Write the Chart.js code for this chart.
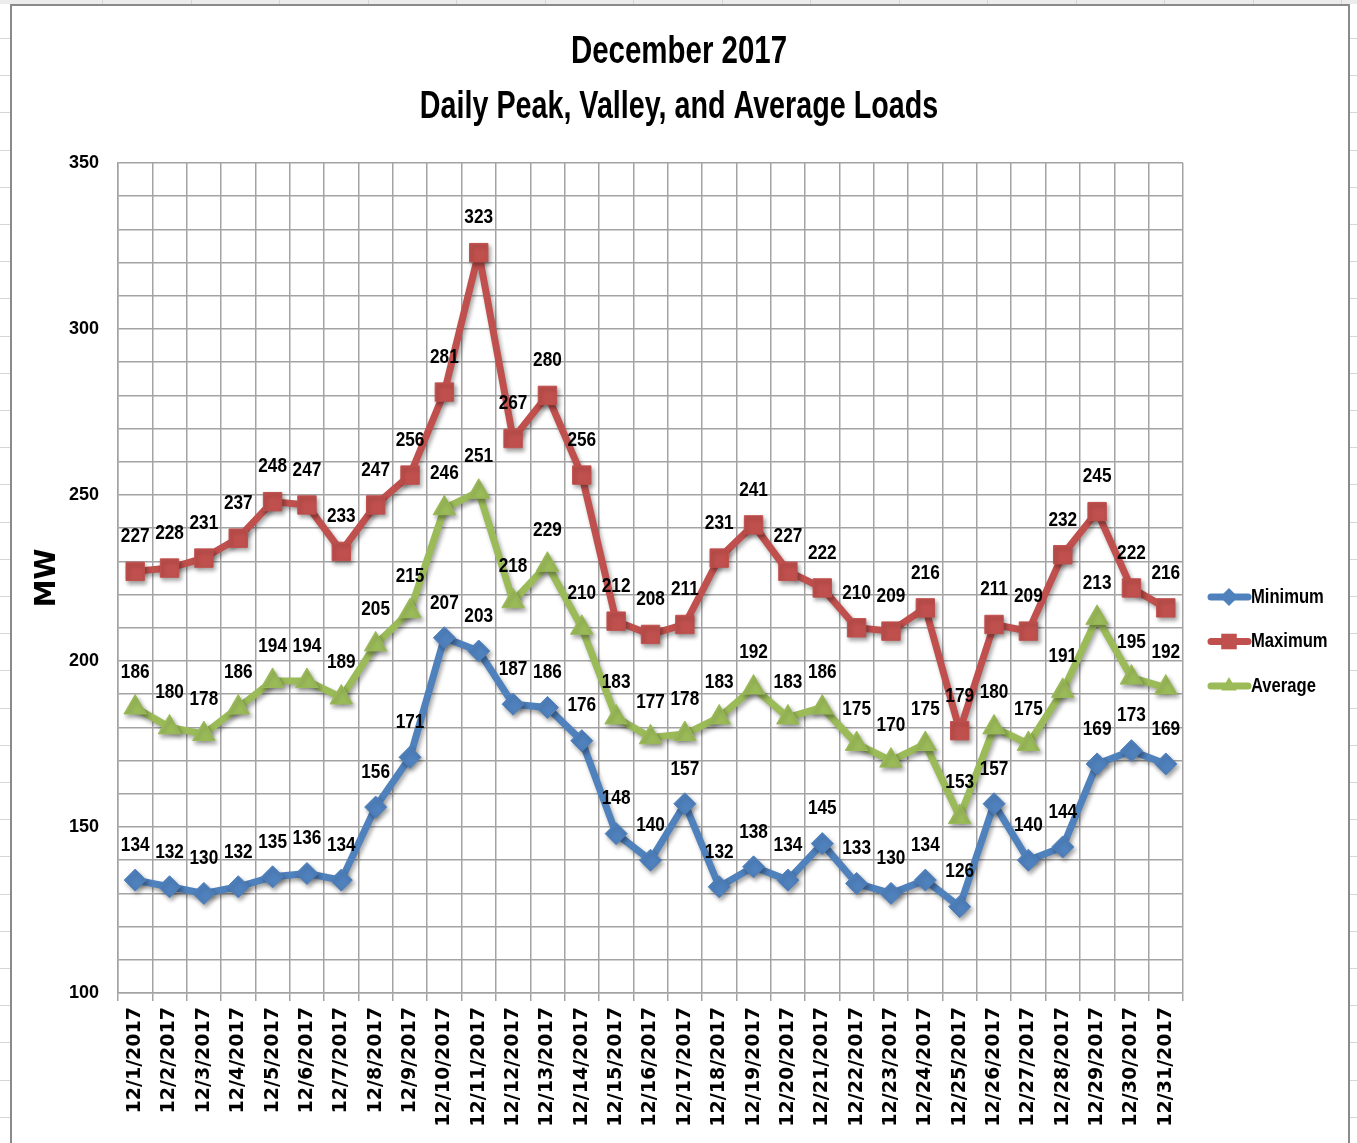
<!DOCTYPE html>
<html><head><meta charset="utf-8">
<script src="https://cdn.jsdelivr.net/npm/chart.js@4/dist/chart.umd.min.js"></script>
<style>html,body{margin:0;padding:0;background:#fff;overflow:hidden}#wrap{position:absolute;left:0;top:0;width:1357px;height:1143px}</style>
</head><body><div id="wrap"><canvas id="c"></canvas></div>
<script>
const categories = ["12/1/2017","12/2/2017","12/3/2017","12/4/2017","12/5/2017","12/6/2017","12/7/2017","12/8/2017","12/9/2017","12/10/2017","12/11/2017","12/12/2017","12/13/2017","12/14/2017","12/15/2017","12/16/2017","12/17/2017","12/18/2017","12/19/2017","12/20/2017","12/21/2017","12/22/2017","12/23/2017","12/24/2017","12/25/2017","12/26/2017","12/27/2017","12/28/2017","12/29/2017","12/30/2017","12/31/2017"];
const minimumLoads = [134,132,130,132,135,136,134,156,171,207,203,187,186,176,148,140,157,132,138,134,145,133,130,134,126,157,140,144,169,173,169];
const maximumLoads = [227,228,231,237,248,247,233,247,256,281,323,267,280,256,212,208,211,231,241,227,222,210,209,216,179,211,209,232,245,222,216];
const averageLoads = [186,180,178,186,194,194,189,205,215,246,251,218,229,210,183,177,178,183,192,183,186,175,170,175,153,180,175,191,213,195,192];
const seriesNames = ["Minimum","Maximum","Average"];
const yMin = 100, yMax = 350, yStep = 10, yLabelStep = 50;
const titleLines = ["December 2017","Daily Peak, Valley, and Average Loads"];
const yAxisTitle = "MW";

const SANS = "'Liberation Sans',Arial,sans-serif";
const GRID = '#a3a3a3';

function scaledText(ctx, text, x, y, sx, align) {
  ctx.save();
  ctx.translate(x, y);
  ctx.scale(sx, 1);
  ctx.textAlign = align;
  ctx.fillText(text, 0, 0);
  ctx.restore();
}

const pagePlugin = {
  id: 'page',
  beforeDraw(chart) {
    const ctx = chart.ctx, W = chart.width, H = chart.height;
    ctx.save();
    ctx.fillStyle = '#fff'; ctx.fillRect(0, 0, W, H);
    ctx.strokeStyle = '#d6d6d6'; ctx.lineWidth = 1;
    for (let y = 38; y < H; y += 37.2) {
      ctx.beginPath(); ctx.moveTo(0, Math.round(y) + 0.5); ctx.lineTo(11, Math.round(y) + 0.5); ctx.stroke();
      ctx.beginPath(); ctx.moveTo(1350, Math.round(y) + 0.5); ctx.lineTo(W, Math.round(y) + 0.5); ctx.stroke();
    }
    ctx.fillStyle = '#ececec'; ctx.fillRect(0, 0, W, 4);
    for (let x = 102; x < W; x += 88.5) {
      ctx.beginPath(); ctx.moveTo(Math.round(x) + 0.5, 0); ctx.lineTo(Math.round(x) + 0.5, 4); ctx.stroke();
    }
    ctx.strokeStyle = '#8a8a8a'; ctx.lineWidth = 2;
    ctx.strokeRect(11, 5, 1338, H + 20);
    ctx.fillStyle = '#000';
    ctx.font = "bold 38px " + SANS;
    ctx.textBaseline = 'middle';
    scaledText(ctx, titleLines[0], 679, 53, 0.775, 'center');
    scaledText(ctx, titleLines[1], 679, 108, 0.755, 'center');
    ctx.restore();
  },
  beforeDatasetsDraw(chart) {
    const ctx = chart.ctx;
    ctx.save();
    ctx.shadowColor = 'rgba(0,0,0,0.35)';
    ctx.shadowBlur = 4; ctx.shadowOffsetX = 2; ctx.shadowOffsetY = 3;
  },
  afterDatasetsDraw(chart) {
    const ctx = chart.ctx;
    ctx.restore();
    ctx.save();
    ctx.fillStyle = '#000';
    ctx.font = "bold 21px " + SANS;
    ctx.textBaseline = 'middle';
    chart.data.datasets.forEach((ds, i) => {
      const meta = chart.getDatasetMeta(i);
      meta.data.forEach((el, j) => {
        scaledText(ctx, String(ds.data[j]), el.x, el.y - 35, 0.82, 'center');
      });
    });
    ctx.restore();
  },
  afterDraw(chart) {
    const ctx = chart.ctx;
    ctx.save();
    chart.data.datasets.forEach((ds, i) => {
      const y = 597 + 44.5 * i;
      ctx.strokeStyle = ds.borderColor; ctx.lineWidth = 7; ctx.lineCap = 'round';
      ctx.beginPath(); ctx.moveTo(1211, y); ctx.lineTo(1248, y); ctx.stroke();
      ctx.fillStyle = ds.borderColor;
      Chart.helpers.drawPoint(ctx, {pointStyle: ds.pointStyle, radius: ds.pointStyle === 'rect' ? 11 : 9, borderWidth: 0, rotation: 0}, 1229, y);
      ctx.fillStyle = '#000';
      ctx.font = "bold 20px " + SANS;
      ctx.textBaseline = 'middle';
      scaledText(ctx, ds.label, 1251, y, 0.83, 'left');
    });
    ctx.restore();
  }
};

const mk = (label, data, color, style, r) => ({
  label, data, borderColor: color, backgroundColor: color,
  borderWidth: 7, borderJoinStyle: 'round', borderCapStyle: 'round',
  pointStyle: style, pointRadius: r, pointBorderWidth: 1,
  pointBackgroundColor: color, pointBorderColor: color, pointHoverRadius: r,
  tension: 0, clip: false
});

new Chart(document.getElementById('c'), {
  type: 'line',
  data: {
    labels: categories,
    datasets: [
      mk(seriesNames[0], minimumLoads, '#4F81BD', 'rectRot', 11),
      mk(seriesNames[1], maximumLoads, '#C0504D', 'rect', 13),
      mk(seriesNames[2], averageLoads, '#9BBB59', 'triangle', 13)
    ]
  },
  options: {
    responsive: true, maintainAspectRatio: false, animation: false,
    events: [],
    layout: { padding: { left: 11, right: 11, top: 163, bottom: 0 } },
    plugins: {
      legend: { display: false },
      tooltip: { enabled: false },
      title: { display: false }
    },
    scales: {
      x: {
        type: 'category', offset: true,
        grid: { offset: true, color: GRID, lineWidth: 1.5, tickLength: 8, drawOnChartArea: true },
        border: { color: GRID, width: 1.5 },
        ticks: { color: '#000', minRotation: 90, maxRotation: 90, autoSkip: false, padding: 6,
                 font: { family: "'DejaVu Sans',sans-serif", size: 19, weight: 'bold' } },
        afterFit(s) { s.height = 150; }
      },
      y: {
        min: yMin, max: yMax,
        grid: { color: GRID, lineWidth: 1.5, drawTicks: false },
        border: { color: GRID, width: 1.5 },
        ticks: { stepSize: yStep, color: '#000', padding: 19, autoSkip: false,
                 font: { family: SANS, size: 18, weight: 'bold' },
                 callback: v => (v % yLabelStep === 0 ? String(v) : '') },
        title: { display: true, text: yAxisTitle, color: '#000',
                 font: { family: "'DejaVu Sans',sans-serif", size: 28, weight: 'bold', lineHeight: 1.2 },
                 padding: { top: 20, bottom: 0 } },
        afterFit(s) { s.width = 107; }
      },
      y2: {
        position: 'right', display: true, min: 0, max: 1,
        grid: { display: false, drawTicks: false }, border: { display: false },
        ticks: { display: false },
        afterFit(s) { s.width = 163; }
      }
    }
  },
  plugins: [pagePlugin]
});
</script>
</body></html>
